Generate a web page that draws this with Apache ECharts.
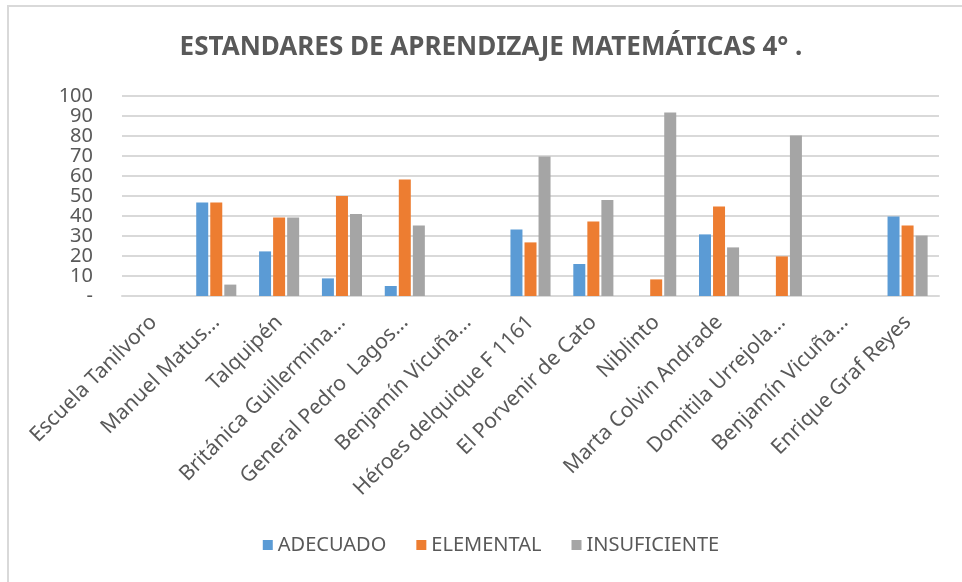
<!DOCTYPE html>
<html>
<head>
<meta charset="utf-8">
<script src="https://cdn.jsdelivr.net/npm/echarts@6/dist/echarts.min.js"></script>
<style>
  html, body { margin: 0; padding: 0; background: #fff; overflow: hidden; }
  .frame { position: absolute; left: 7px; top: 5px; width: 2000px; height: 2000px;
           border-top: 2px solid #d9d9d9; border-left: 2px solid #d9d9d9; }
  #chart { position: absolute; left: 7px; top: 5px; width: 968px; height: 600px; }
</style>
</head>
<body>
<div class="frame"></div>
<div id="chart"></div>
<script>
// escuelas
const categories = ["Escuela Tanilvoro", "Manuel Matus...", "Talquipén", "Británica Guillermina...",
  "General Pedro  Lagos...", "Benjamín Vicuña...", "Héroes delquique F 1161", "El Porvenir de Cato",
  "Niblinto", "Marta Colvin Andrade", "Domitila Urrejola...", "Benjamín Vicuña...", "Enrique Graf Reyes"];

const adecuado = [null, 46.7, 22.3, 8.8, 5, null, 33.2, 16, null, 30.8, null, null, 39.8];
const elemental = [null, 46.7, 39.2, 50, 58.3, null, 26.8, 37.2, 8.3, 44.8, 19.8, null, 35.3];
const insuficiente = [null, 5.7, 39.2, 41, 35.3, null, 69.8, 48, 91.7, 24.3, 80.2, null, 30.2];

const yTicks = [0, 10, 20, 30, 40, 50, 60, 70, 80, 90, 100];

const textColor = "#595959";
const fontFamily = "'Noto Sans', 'Open Sans', sans-serif";

const chart = echarts.init(document.getElementById("chart"));

const barSeries = (name, data, color) => ({
  name: name,
  type: "bar",
  data: data,
  barWidth: 12,
  barGap: "17%",
  itemStyle: { color: color },
  emphasis: { disabled: true }
});

const option = {
  animation: false,
  textStyle: { fontFamily: fontFamily },
  title: {
    text: "ESTANDARES DE APRENDIZAJE MATEMÁTICAS 4° .",
    left: "center",
    top: 25,
    textStyle: { color: textColor, fontSize: 26, fontWeight: "bold", fontFamily: fontFamily }
  },
  legend: {
    top: 525,
    left: "center",
    itemWidth: 10,
    itemHeight: 10,
    itemGap: 30,
    icon: "rect",
    textStyle: { color: textColor, fontSize: 20, fontFamily: fontFamily }
  },
  grid: { left: 115, right: 36, top: 91, bottom: 309, containLabel: false },
  xAxis: {
    type: "category",
    data: categories,
    axisLine: { lineStyle: { color: "#d9d9d9", width: 2 } },
    axisTick: { show: false },
    axisLabel: {
      interval: 0,
      rotate: 45,
      margin: 23,
      color: textColor,
      fontSize: 21,
      fontFamily: fontFamily
    }
  },
  yAxis: {
    type: "value",
    min: yTicks[0],
    max: yTicks[yTicks.length - 1],
    interval: 10,
    axisLine: { show: false },
    axisTick: { show: false },
    splitLine: { lineStyle: { color: "#d9d9d9", width: 2 } },
    axisLabel: {
      margin: 29,
      color: textColor,
      fontSize: 20,
      fontFamily: fontFamily,
      formatter: v => (v === 0 ? "-" : v)
    }
  },
  series: [
    barSeries("ADECUADO", adecuado, "#5b9bd5"),
    barSeries("ELEMENTAL", elemental, "#ed7d31"),
    barSeries("INSUFICIENTE", insuficiente, "#a5a5a5")
  ]
};

chart.setOption(option);
</script>
</body>
</html>
